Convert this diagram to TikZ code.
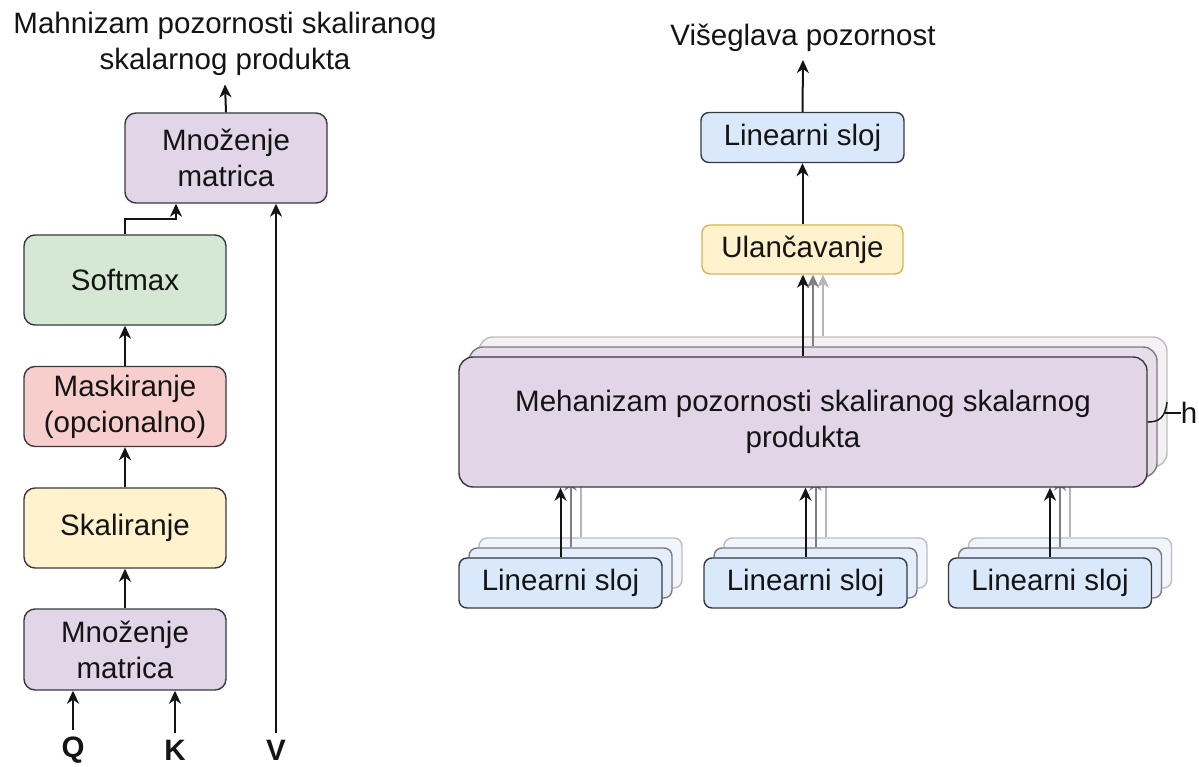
\documentclass[tikz,border=0pt]{standalone}
\usepackage{fontspec}
\setmainfont{Liberation Sans}
\usetikzlibrary{arrows.meta, positioning}

\definecolor{purplefill}{HTML}{E1D5E7}
\definecolor{greenfill}{HTML}{D5E8D4}
\definecolor{redfill}{HTML}{F8CECC}
\definecolor{yellowfill}{HTML}{FFF2CC}
\definecolor{yellowline}{HTML}{D6B656}
\definecolor{bluefill}{HTML}{DAE8FC}
\definecolor{boxline}{HTML}{36393D}
\definecolor{textcol}{HTML}{141414}
\definecolor{attnback1}{HTML}{E7DDEB}
\definecolor{attnback2}{HTML}{F4F0F6}
\definecolor{linback1}{HTML}{E4EDFC}
\definecolor{linback2}{HTML}{F0F5FE}
\definecolor{backline1}{HTML}{7A7A7A}
\definecolor{backline2}{HTML}{BDBDBD}
\definecolor{arrowgray1}{HTML}{7F7F7F}
\definecolor{arrowgray2}{HTML}{B5B5B5}

\newcommand{\diagfont}{\fontsize{29.5}{36}\selectfont}

\begin{document}
\begin{tikzpicture}[
    x=1pt, y=-1pt,
    block/.style={rectangle, draw=boxline, line width=1.4pt, rounded corners=11pt,
    align=center, inner sep=0pt, text=textcol, font=\diagfont},
    opbox/.style={block, minimum width=202pt},
    linbox/.style={block, fill=bluefill, minimum width=203pt, minimum height=50pt,
    rounded corners=8pt},
    attnbox/.style={block, minimum width=688pt, minimum height=130pt, rounded corners=14pt},
    label/.style={font=\diagfont, text=textcol, align=center, inner sep=0pt},
    arrow/.style={line width=2pt, draw=textcol, -{Stealth[length=13pt, width=12pt, inset=4pt]}}
]
\useasboundingbox (0,0) rectangle (1199,767);

% Left: scaled dot-product attention
\node[opbox, fill=purplefill, minimum height=81pt] (matmulbot) at (125,649.5) {Množenje\\matrica};
\node[opbox, fill=yellowfill, minimum height=80pt] (scaling) at (125,528) {Skaliranje};
\node[opbox, fill=redfill, minimum height=80pt] (masking) at (125,406.5) {Maskiranje\\(opcionalno)};
\node[opbox, fill=greenfill, minimum height=90pt] (softmax) at (125,280) {Softmax};
\node[opbox, fill=purplefill, minimum height=90pt] (matmultop) at (226,158) {Množenje\\matrica};
\node[label] (lefttitle) at (225,43.5) {Mahnizam pozornosti skaliranog\\skalarnog produkta};

\node[label, font=\diagfont\bfseries] (q) at (73,750) {Q};
\node[label, font=\diagfont\bfseries] (k) at (175,750) {K};
\node[label, font=\diagfont\bfseries] (v) at (276,750) {V};

% Right: multi-head attention
\node[label] (righttitle) at (803,38) {Višeglava pozornost};
\node[linbox] (linout) at (802.5,137.5) {Linearni sloj};
\node[block, fill=yellowfill, draw=yellowline, minimum width=201pt, minimum height=49pt,
    rounded corners=8pt] (concat) at (802.5,249.5) {Ulančavanje};

\node[attnbox, fill=attnback2, draw=backline2] (attn2) at (823,402) {};
\node[attnbox, fill=attnback1, draw=backline1] (attn1) at (813,412) {};

\node[linbox, fill=linback2, draw=backline2] (linq2) at (580.5,563) {};
\node[linbox, fill=linback1, draw=backline1] (linq1) at (570.5,573) {};
\node[linbox] (linq) at (560.5,583) {Linearni sloj};

\node[linbox, fill=linback2, draw=backline2] (link2) at (825.5,563) {};
\node[linbox, fill=linback1, draw=backline1] (link1) at (815.5,573) {};
\node[linbox] (link) at (805.5,583) {Linearni sloj};

\node[linbox, fill=linback2, draw=backline2] (linv2) at (1070,563) {};
\node[linbox, fill=linback1, draw=backline1] (linv1) at (1060,573) {};
\node[linbox] (linv) at (1050,583) {Linearni sloj};

% the other heads (behind the front box)
\draw[arrow, draw=arrowgray1] (linq1.north) -- (linq1.north |- attn1.south);
\draw[arrow, draw=arrowgray2] (linq2.north) -- (linq2.north |- attn2.south);
\draw[arrow, draw=arrowgray1] (link1.north) -- (link1.north |- attn1.south);
\draw[arrow, draw=arrowgray2] (link2.north) -- (link2.north |- attn2.south);
\draw[arrow, draw=arrowgray1] (linv1.north) -- (linv1.north |- attn1.south);
\draw[arrow, draw=arrowgray2] (linv2.north) -- (linv2.north |- attn2.south);

\node[attnbox, fill=purplefill] (attn) at (803,422) {Mehanizam pozornosti skaliranog skalarnog\\produkta};
\node[label] (heads) at (1189,413) {h};

% Arrows
\draw[arrow] ([yshift=7pt]q.north) -- (q.north |- matmulbot.south);
\draw[arrow] ([yshift=7pt]k.north) -- (k.north |- matmulbot.south);
\draw[arrow] ([yshift=7pt]v.north) -- (v.north |- matmultop.south);
\draw[arrow] (matmulbot) -- (scaling);
\draw[arrow] (scaling) -- (masking);
\draw[arrow] (masking) -- (softmax);
\draw[arrow] (softmax.north) -- ++(0,-15) -| ([xshift=-50pt]matmultop.south);
\draw[arrow] (matmultop.north) -- ([yshift=-9pt]lefttitle.south);

\draw[arrow] (linq.north) -- (linq.north |- attn.south);
\draw[arrow] (link.north) -- (link.north |- attn.south);
\draw[arrow] (linv.north) -- (linv.north |- attn.south);
\draw[arrow] (attn.north) -- (attn.north |- concat.south);
\draw[arrow, draw=arrowgray1] (attn1.north) -- (attn1.north |- concat.south);
\draw[arrow, draw=arrowgray2] (attn2.north) -- (attn2.north |- concat.south);
\draw[arrow] (concat) -- (linout);
\draw[arrow] (linout.north) -- ([yshift=-8pt]righttitle.south);

% h brace
\draw[line width=1.4pt, draw=textcol] (attn.east) .. controls (1159,422) and (1165,418) .. (1167,402);
\draw[line width=1.4pt, draw=textcol] (1165,413) -- (heads.west);

\end{tikzpicture}
\end{document}
